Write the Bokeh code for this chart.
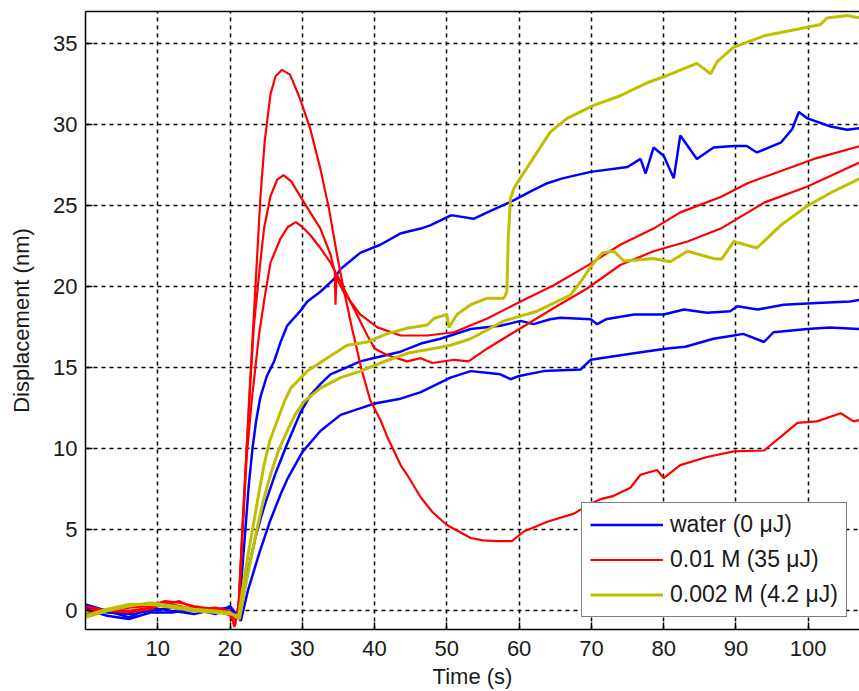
from bokeh.plotting import figure
from bokeh.models import FixedTicker, LinearAxis, Legend, LegendItem, Range1d
from bokeh.embed import file_html
from bokeh.resources import INLINE

# ---------------- data ----------------
x_ticks = [10, 20, 30, 40, 50, 60, 70, 80, 90, 100]
y_ticks = [0, 5, 10, 15, 20, 25, 30, 35]

legend_labels = ["water (0 \u03bcJ)", "0.01 M (35 \u03bcJ)", "0.002 M (4.2 \u03bcJ)"]

# water (blue)
b1_t = [0, 3, 6, 9, 12, 15, 18, 20, 21.0, 21.5, 22.0, 22.6, 23.1, 23.6, 24.2, 25.1, 26.1, 27.0, 27.9,
        29.7, 30.7, 32.5, 34.4, 35.3, 38.0, 40.8, 43.6, 44.5, 46.4, 47.7, 50.5, 51.0, 53.7, 55.6, 59.3,
        61.6, 63.9, 66.0, 69.9, 75.0, 76.8, 77.5, 78.6, 80.0, 81.4, 82.3, 84.6, 86.9, 89.7, 91.5, 92.9,
        96.2, 97.8, 98.7, 99.9, 103.1, 105.4, 107.2]
b1_d = [0.4, 0.0, -0.4, 0.2, 0.0, -0.2, 0.1, 0.2, -0.3, 1.5, 4.3, 7.8, 10.0, 11.7, 13.2, 14.5, 15.4, 16.6, 17.6,
        18.5, 19.1, 19.7, 20.5, 21.1, 22.1, 22.6, 23.3, 23.4, 23.6, 23.8, 24.4, 24.4, 24.2, 24.6, 25.35,
        25.9, 26.4, 26.7, 27.1, 27.4, 27.9, 27.0, 28.6, 28.1, 26.7, 29.35, 27.9, 28.6, 28.7, 28.7, 28.3,
        28.9, 29.75, 30.8, 30.4, 29.9, 29.7, 29.8]

b2_t = [0, 3, 6, 9, 12, 15, 18, 20, 21.2, 22.0, 22.5, 23.5, 24.3, 25.0, 26.3, 27.9, 29.7, 31.1, 32.5,
        33.9, 36.0, 38.0, 40.8, 43.6, 46.4, 49.1, 53.3, 57.4, 60.2, 62.0, 64.3, 65.7, 69.9, 70.8, 72.0,
        75.9, 80.0, 82.8, 86.0, 89.2, 90.2, 93.0, 96.6, 101.2, 105.8, 107.2]
b2_d = [0.1, -0.3, -0.5, -0.1, -0.1, 0.1, -0.2, 0.3, -0.4, 1.5, 2.5, 4.5, 5.8, 6.8, 8.5, 10.3, 12.2, 13.3, 14.0,
        14.6, 15.0, 15.4, 15.7, 16.0, 16.5, 16.8, 17.4, 17.6, 17.9, 17.7, 18.0, 18.1, 18.0, 17.7, 18.0,
        18.3, 18.3, 18.6, 18.4, 18.5, 18.8, 18.6, 18.9, 19.0, 19.1, 19.2]

b3_t = [0, 3, 6, 9, 12, 15, 18, 20, 21.5, 22.5, 24.0, 25.5, 27.0, 28.0, 30.0, 32.5, 35.3, 38.0, 40.0,
        43.6, 46.4, 50.5, 53.3, 55.5, 57.4, 58.8, 60.0, 63.4, 68.5, 69.9, 75.9, 80.5, 83.0, 86.9, 89.7,
        91.0, 93.9, 95.2, 99.9, 103.0, 107.2]
b3_d = [0.2, -0.1, -0.2, 0.0, 0.2, 0.0, 0.1, 0.0, -0.6, 1.3, 3.5, 5.5, 7.2, 8.2, 9.8, 11.1, 12.1, 12.5, 12.8,
        13.1, 13.5, 14.4, 14.8, 14.7, 14.6, 14.3, 14.5, 14.8, 14.9, 15.5, 15.9, 16.2, 16.3, 16.8, 17.0,
        17.1, 16.6, 17.2, 17.4, 17.5, 17.4]

# 0.01 M (red)
r1_t = [0, 3, 6, 9, 11, 13, 15, 18, 20, 20.7, 21.2, 21.7, 22.3, 22.7, 23.2, 23.7, 24.2, 24.8, 25.6, 26.3,
        27.2, 28.3, 29.7, 31.1, 32.5, 33.7, 34.8, 35.7, 36.9, 38.2, 39.4, 40.8, 41.7, 43.6, 44.5, 46.4,
        48.0, 50.0, 53.3, 55.0, 57.0, 59.0, 60.65, 63.9, 67.6, 69.4, 71.3, 73.1, 75.4, 76.8, 79.1, 80.0,
        82.3, 86.0, 89.7, 93.9, 96.6, 98.5, 101.2, 104.5, 106.3, 107.2]
r1_d = [0.1, 0.0, 0.2, 0.3, 0.6, 0.5, 0.3, 0.1, -0.3, -0.9, 0.5, 5.0, 10.0, 13.5, 17.5, 21.5, 25.5, 29.0, 31.9, 33.0,
        33.4, 33.1, 31.6, 29.75, 27.3, 24.8, 22.0, 19.9, 17.4, 14.9, 13.0, 11.8, 10.8, 9.0, 8.4, 7.0,
        6.1, 5.3, 4.5, 4.35, 4.3, 4.3, 4.9, 5.5, 6.0, 6.5, 6.9, 7.1, 7.6, 8.4, 8.7, 8.2,
        9.0, 9.5, 9.85, 9.9, 10.9, 11.6, 11.7, 12.2, 11.7, 11.8]

r2_t = [0, 3, 6, 9, 11, 13, 15, 18, 20, 20.8, 21.2, 21.7, 22.3, 22.8, 23.3, 24.0, 24.7, 25.6, 26.5, 27.4,
        28.5, 29.7, 31.1, 32.5, 33.9, 34.5, 34.6, 34.7, 35.7, 38.0, 40.4, 43.6, 47.3, 51.0, 55.6, 60.2,
        64.8, 69.4, 74.0, 78.6, 82.3, 87.9, 91.6, 100.8, 107.2]
r2_d = [-0.2, 0.1, 0.0, 0.2, 0.4, 0.6, 0.2, 0.0, -0.2, -0.6, 0.3, 5.0, 10.0, 14.0, 17.6, 20.7, 23.6, 25.6, 26.6, 26.9,
        26.5, 25.6, 24.6, 23.6, 22.0, 20.9, 18.9, 20.6, 19.7, 18.3, 17.5, 17.0, 17.0, 17.2, 18.05, 19.1,
        20.1, 21.3, 22.6, 23.6, 24.6, 25.55, 26.4, 27.9, 28.7]

r3_t = [0, 3, 6, 9, 11, 13, 15, 18, 20, 20.6, 21.2, 21.7, 22.3, 23.0, 23.5, 24.0, 24.7, 25.6, 27.0, 28.0,
        29.1, 30.0, 31.1, 32.5, 33.9, 35.3, 37.1, 39.0, 40.0, 41.7, 44.5, 46.4, 48.0, 51.0, 53.0, 55.6,
        60.2, 64.8, 69.4, 74.0, 78.6, 83.3, 87.9, 93.9, 99.9, 107.2]
r3_d = [0.3, 0.0, -0.1, 0.1, 0.5, 0.3, 0.1, 0.2, 0.0, -1.0, 0.2, 4.5, 9.5, 13.0, 15.0, 17.0, 19.1, 21.5, 23.0, 23.7,
        24.0, 23.7, 23.2, 22.4, 21.5, 20.3, 18.7, 17.0, 16.2, 15.8, 15.4, 15.6, 15.3, 15.5, 15.4, 16.2,
        17.45, 18.7, 19.9, 21.35, 22.2, 22.8, 23.6, 25.2, 26.2, 27.7]

# 0.002 M (yellow)
y1_t = [0, 3, 6, 9, 12, 15, 18, 20, 21.2, 21.8, 22.5, 23.3, 24.0, 24.7, 25.5, 26.5, 27.5, 28.4, 30.7,
        33.4, 36.2, 39.0, 41.7, 44.5, 47.3, 48.2, 50.0, 50.3, 51.4, 53.3, 55.6, 57.9, 58.3, 58.5, 58.8,
        59.3, 60.0, 61.6, 64.3, 66.65, 70.3, 74.0, 77.7, 80.5, 84.6, 86.5, 87.4, 89.7, 93.9, 98.5,
        101.7, 102.6, 105.4, 107.2]
y1_d = [-0.3, 0.1, 0.4, 0.4, 0.2, 0.0, -0.1, -0.2, -0.3, 1.5, 3.5, 5.5, 7.3, 9.0, 10.5, 11.7, 12.9, 13.75, 14.8,
        15.6, 16.4, 16.6, 17.1, 17.45, 17.65, 18.05, 18.3, 17.5, 18.3, 18.9, 19.3, 19.3, 19.7, 23.0, 25.45,
        26.1, 26.6, 27.7, 29.55, 30.4, 31.2, 31.8, 32.6, 33.05, 33.8, 33.15, 33.9, 34.8, 35.5, 35.9,
        36.2, 36.6, 36.75, 36.6]

y2_t = [0, 3, 6, 9, 12, 15, 18, 20, 21.3, 22.0, 22.8, 23.7, 24.6, 25.6, 26.7, 27.9, 29.0, 30.2, 32.5,
        35.3, 38.05, 40.8, 44.5, 48.2, 50.5, 53.3, 57.9, 62.5, 67.1, 68.5, 70.0, 71.5, 73.1, 74.5, 78.6,
        80.9, 83.3, 86.9, 88.0, 89.7, 92.9, 96.2, 99.9, 103.5, 107.2]
y2_d = [-0.4, 0.0, 0.3, 0.5, 0.3, 0.1, 0.0, -0.1, -0.5, 1.2, 3.0, 5.0, 6.8, 8.4, 9.9, 11.1, 12.1, 12.9, 13.75,
        14.4, 14.8, 15.3, 15.9, 16.2, 16.4, 16.8, 17.9, 18.5, 19.5, 20.3, 21.3, 22.1, 22.2, 21.6, 21.75,
        21.55, 22.2, 21.75, 21.7, 22.8, 22.4, 23.8, 25.0, 25.9, 26.7]

BLUE, RED, YELLOW = "#0000FF", "#FF0000", "#BFBF00"
FONT = "Liberation Sans"
TXT = "#1a1a1a"

p = figure(width=859, height=691,
           x_range=Range1d(0, 107.1), y_range=Range1d(-1.15, 37.0),
           output_backend="svg", toolbar_location=None,
           min_border_left=85, min_border_right=0, min_border_top=11, min_border_bottom=62)
p.outline_line_color = None
p.background_fill_color = "white"
p.border_fill_color = "white"

# axes
for ax in (p.xaxis[0], p.yaxis[0]):
    ax.axis_line_color = "black"
    ax.axis_line_width = 1.5
    ax.major_tick_line_color = "black"
    ax.major_tick_line_width = 1.5
    ax.major_tick_in = 7
    ax.major_tick_out = 0
    ax.minor_tick_line_color = None
    ax.major_label_text_font = FONT
    ax.major_label_text_font_size = "22px"
    ax.major_label_text_color = TXT
    ax.axis_label_text_font = FONT
    ax.axis_label_text_font_size = "22px"
    ax.axis_label_text_font_style = "normal"
    ax.axis_label_text_color = TXT

p.xaxis.ticker = FixedTicker(ticks=x_ticks)
p.yaxis.ticker = FixedTicker(ticks=y_ticks)
p.xaxis.axis_label = "Time (s)"
p.yaxis.axis_label = "Displacement (nm)"
p.xaxis.major_label_standoff = 11
p.xaxis.axis_label_standoff = 5
p.yaxis.major_label_standoff = 8
p.yaxis.axis_label_standoff = 16

# top border of the box (no ticks, no labels)
top = LinearAxis(ticker=FixedTicker(ticks=[]), axis_line_color="black", axis_line_width=1.5,
                 major_tick_out=0, major_tick_in=0, minor_tick_line_color=None,
                 major_label_standoff=0)
p.add_layout(top, "above")

# grid
for g in (p.xgrid[0], p.ygrid[0]):
    g.grid_line_color = "black"
    g.grid_line_width = 1.5
    g.grid_line_dash = "4 4"
p.xgrid.ticker = FixedTicker(ticks=x_ticks)
p.ygrid.ticker = FixedTicker(ticks=y_ticks)

# curves
rb = [p.line(t, d, line_color=BLUE, line_width=2.5)
      for t, d in ((b1_t, b1_d), (b2_t, b2_d), (b3_t, b3_d))]
rr = [p.line(t, d, line_color=RED, line_width=2.2)
      for t, d in ((r1_t, r1_d), (r2_t, r2_d), (r3_t, r3_d))]
ry = [p.line(t, d, line_color=YELLOW, line_width=3)
      for t, d in ((y1_t, y1_d), (y2_t, y2_d))]

legend = Legend(items=[LegendItem(label=legend_labels[0], renderers=[rb[0]]),
                       LegendItem(label=legend_labels[1], renderers=[rr[0]]),
                       LegendItem(label=legend_labels[2], renderers=[ry[0]])],
                location=(496, 12))
legend.border_line_color = "black"
legend.border_line_width = 1.5
legend.background_fill_color = "white"
legend.background_fill_alpha = 1.0
legend.label_text_font = FONT
legend.label_text_font_size = "23px"
legend.label_text_color = TXT
legend.glyph_width = 73
legend.glyph_height = 27
legend.label_height = 27
legend.label_standoff = 7
legend.padding = 8
legend.spacing = 8
legend.margin = 0
p.add_layout(legend)

open("out.html", "w").write(file_html(p, INLINE))
